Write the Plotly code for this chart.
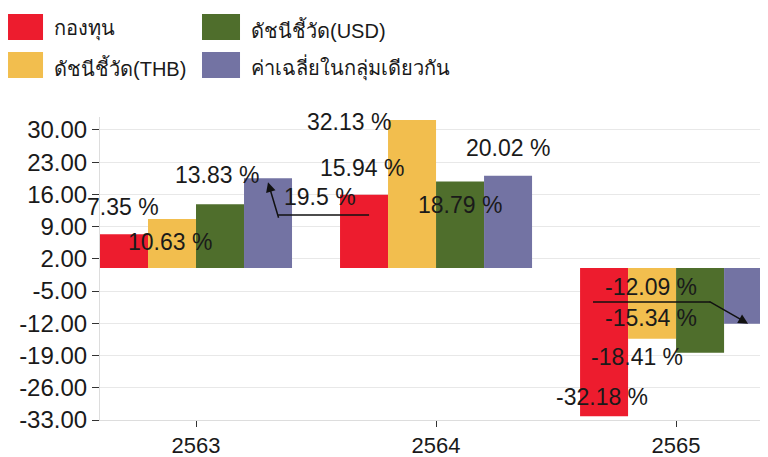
import plotly.graph_objects as go

categories = ["2563", "2564", "2565"]
series_names = ["กองทุน", "ดัชนีชี้วัด(THB)", "ดัชนีชี้วัด(USD)", "ค่าเฉลี่ยในกลุ่มเดียวกัน"]
fund = [7.35, 15.94, -32.18]
bench_thb = [10.63, 32.13, -15.34]
bench_usd = [13.83, 18.79, -18.41]
peer_avg = [19.5, 20.02, -12.09]
y_ticks = [30, 23, 16, 9, 2, -5, -12, -19, -26, -33]

colors = ["#ED1C2E", "#F2BE4E", "#4F6E2C", "#7373A3"]
series = [fund, bench_thb, bench_usd, peer_avg]

FONT = "Liberation Sans, Arial, Noto Sans, sans-serif"
fig = go.Figure()
for name, vals, col in zip(series_names, series, colors):
    fig.add_trace(go.Bar(x=categories, y=vals, name=name, marker_color=col,
                         marker_line_width=0, showlegend=False))

# label pixel shifts (relative to bar end) per series per category
shifts = [
    [(-1, 27), (-2, 27), (-2, 19)],
    [(-2, -23), (-63, -2), (-1, 21)],
    [(-3, 29), (0, -23), (-63, -4)],
    [(52, -19), (0, 28), (-97, 37)],
]
bar_off = [-0.3, -0.1, 0.1, 0.3]
annotations = []
for j, vals in enumerate(series):
    for i, v in enumerate(vals):
        dx, dy = shifts[j][i]
        annotations.append(dict(
            x=i + bar_off[j], y=v, xref="x", yref="y",
            text=(f"{v:g} %" if j == 3 and i == 0 else f"{v:.2f} %"),
            showarrow=False, xshift=dx, yshift=dy,
            font=dict(size=23, color="#1a1a1a", family=FONT)))

# leader arrows
annotations.append(dict(x=0 + bar_off[3], y=peer_avg[0], xref="x", yref="y", text="",
                        showarrow=True, ax=11, ay=37, arrowhead=2, arrowsize=1.3,
                        arrowwidth=1.5, arrowcolor="#111", yshift=-4))
annotations.append(dict(x=2 + bar_off[3], y=peer_avg[2], xref="x", yref="y", text="",
                        showarrow=True, ax=-40, ay=-23, arrowhead=2, arrowsize=1.3,
                        arrowwidth=1.5, arrowcolor="#111"))
shapes = [
    dict(type="line", xref="x", yref="y", x0=0.342, x1=0.721, y0=11.53, y1=11.53,
         line=dict(color="#111", width=1.5)),
    dict(type="line", xref="x", yref="y", x0=1.654, x1=2.142, y0=-7.37, y1=-7.37,
         line=dict(color="#111", width=1.5)),
]

# custom legend (paper coords; plot area spans 668 x 303 px)
leg_pos = [(-0.1377, 1.297), (-0.1377, 1.1716), (0.1527, 1.297), (0.1527, 1.1716)]
leg_w = [0.0524, 0.0524, 0.0569, 0.0569]
for (lx, ly), w, name, col in zip(leg_pos, leg_w, series_names, colors):
    shapes.append(dict(type="rect", xref="paper", yref="paper", x0=lx, x1=lx + w,
                       y0=ly - 0.0429, y1=ly + 0.0429, fillcolor=col, line=dict(width=0)))
    annotations.append(dict(x=lx + w + 0.0134, y=ly - 0.008, xref="paper", yref="paper",
                            text=name, showarrow=False, xanchor="left", yanchor="middle",
                            font=dict(size=20, color="#1a1a1a", family=FONT)))

fig.update_layout(
    width=760, height=449,
    margin=dict(l=92, r=0, t=109, b=37, autoexpand=False),
    paper_bgcolor="white", plot_bgcolor="white",
    barmode="group", bargap=0.2, bargroupgap=0,
    font=dict(family=FONT, size=23, color="#1a1a1a"),
    annotations=annotations, shapes=shapes,
    xaxis=dict(type="category", range=[-0.4, 2.383], showgrid=False,
               showline=True, linecolor="#dddddd", linewidth=1,
               ticks="outside", ticklen=6, tickcolor="#333", tickwidth=1,
               ticklabelstandoff=0,
               tickfont=dict(size=22, color="#1a1a1a")),
    yaxis=dict(range=[-33, 32.8], tickvals=y_ticks,
               ticktext=[f"{t:.2f}" for t in y_ticks],
               showgrid=True, gridcolor="#e8e8e8", gridwidth=1, zeroline=False,
               showline=True, linecolor="#dddddd", linewidth=1,
               ticks="outside", ticklen=7, tickcolor="#333", tickwidth=1,
               tickfont=dict(size=24, color="#1a1a1a")),
)

fig.write_html("out.html")
